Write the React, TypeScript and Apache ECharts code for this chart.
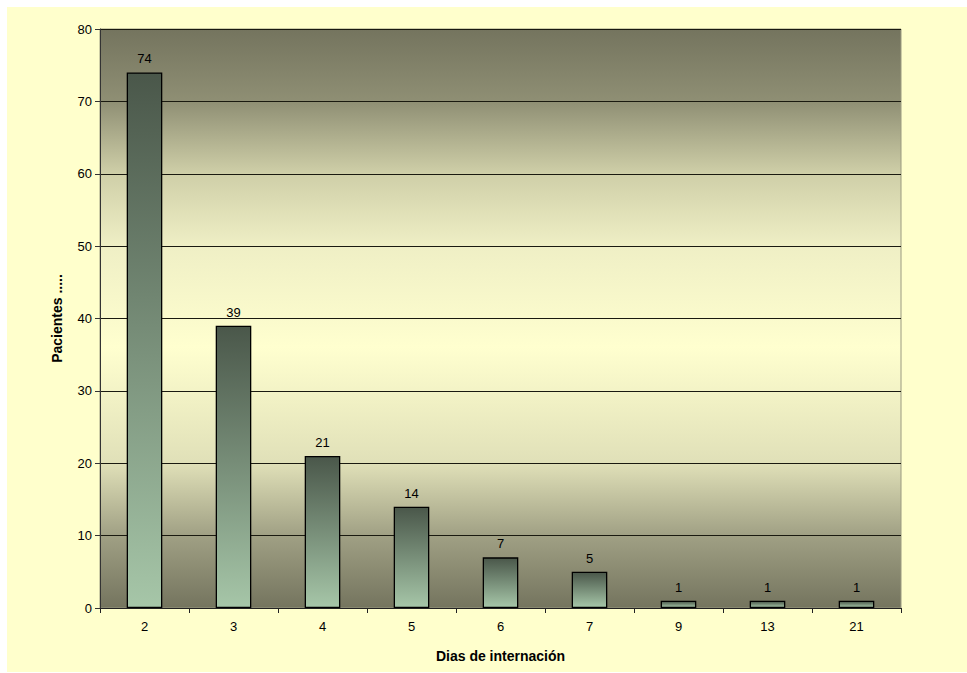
import React, { useEffect, useRef } from "react";
import * as echarts from "echarts";

// Length of stay (days) and number of patients
const dias = ["2", "3", "4", "5", "6", "7", "9", "13", "21"];
const pacientes = [74, 39, 21, 14, 7, 5, 1, 1, 1];

const FONT = "'Liberation Sans', Arial, sans-serif";

export default function App() {
  const ref = useRef<HTMLDivElement>(null);

  useEffect(() => {
    if (!ref.current) return;
    const chart = echarts.init(ref.current, undefined, { renderer: "svg" });

    const barFill = new echarts.graphic.LinearGradient(0, 0, 0, 1, [
      { offset: 0, color: "#4a574a" },
      { offset: 1, color: "#a6c6a8" },
    ]);
    // dark olive at the edges, pale yellow band across the middle
    const plotFill = new echarts.graphic.LinearGradient(0, 0, 0, 1, [
      { offset: 0, color: "#74745e" },
      { offset: 0.125, color: "#8f8f74" },
      { offset: 0.25, color: "#cfcfa8" },
      { offset: 0.375, color: "#efefc5" },
      { offset: 0.55, color: "#ffffcf" },
      { offset: 0.75, color: "#e0e0b8" },
      { offset: 0.875, color: "#a0a084" },
      { offset: 1, color: "#74745e" },
    ]);

    chart.setOption({
      animation: false,
      backgroundColor: "#ffffff",
      textStyle: { fontFamily: FONT },
      graphic: [
        {
          type: "rect",
          z: -10,
          silent: true,
          shape: { x: 7, y: 7, width: 960, height: 665 },
          style: { fill: "#ffffcc" },
        },
      ],
      grid: {
        left: 100,
        right: 66,
        top: 29,
        bottom: 65,
        show: true,
        backgroundColor: plotFill,
        borderColor: "#9a9a80",
        borderWidth: 1,
      },
      xAxis: {
        type: "category",
        data: dias,
        name: "Dias de internación",
        nameLocation: "middle",
        nameGap: 41,
        nameTextStyle: { fontFamily: FONT, fontSize: 14, fontWeight: "bold", color: "#000" },
        axisLine: { show: true, lineStyle: { color: "#222", width: 1 } },
        axisTick: { show: true, alignWithLabel: false, length: 5, lineStyle: { color: "#222" } },
        axisLabel: { fontFamily: FONT, fontSize: 13, color: "#000", margin: 12 },
      },
      yAxis: {
        type: "value",
        min: 0,
        max: 80,
        interval: 10,
        name: "Pacientes .....",
        nameLocation: "middle",
        nameGap: 36,
        nameTextStyle: { fontFamily: FONT, fontSize: 14, fontWeight: "bold", color: "#000" },
        axisLine: { show: true, lineStyle: { color: "#333", width: 1 } },
        axisTick: { show: true, length: 5, lineStyle: { color: "#333" } },
        axisLabel: { fontFamily: FONT, fontSize: 13, color: "#000", margin: 8 },
        splitLine: { show: true, lineStyle: { color: "#1a1a10", width: 1 } },
      },
      series: [
        {
          type: "bar",
          data: pacientes,
          barWidth: "40%",
          itemStyle: { color: barFill, borderColor: "#000", borderWidth: 1.3 },
          label: {
            show: true,
            position: "top",
            distance: 7,
            fontFamily: FONT,
            fontSize: 13,
            color: "#000",
          },
        },
      ],
    });

    return () => chart.dispose();
  }, []);

  return (
    <div
      style={{ position: "fixed", left: 0, top: 0, width: 967, height: 673, background: "#fff" }}
    >
      <div ref={ref} style={{ width: 967, height: 673 }} />
    </div>
  );
}
